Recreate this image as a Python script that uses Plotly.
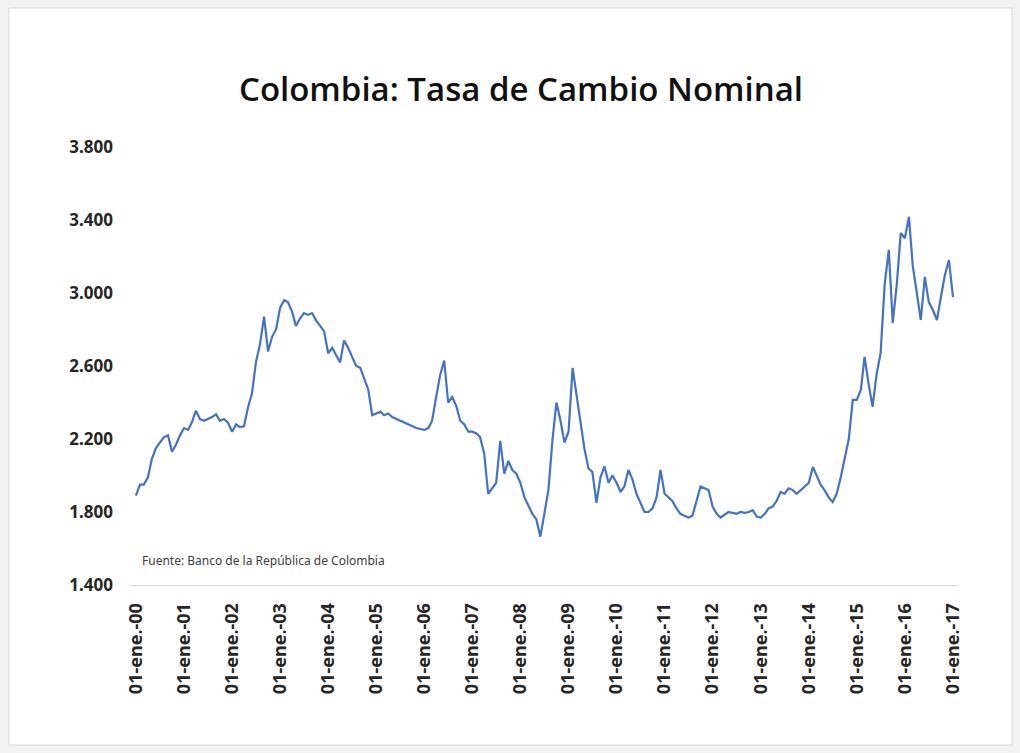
import pandas as pd
import plotly.graph_objects as go

# Monthly nominal exchange rate (COP per USD), Jan-2000 .. Jan-2017
values = [
    # 2000
    1890, 1950, 1950, 1990, 2090, 2150, 2180, 2210, 2220, 2130, 2170, 2220,
    # 2001
    2260, 2250, 2290, 2355, 2310, 2300, 2310, 2320, 2335, 2300, 2310, 2290,
    # 2002
    2240, 2280, 2265, 2270, 2370, 2450, 2620, 2720, 2870, 2680, 2760, 2800,
    # 2003
    2920, 2960, 2950, 2900, 2820, 2860, 2890, 2880, 2890, 2850, 2820, 2790,
    # 2004
    2670, 2700, 2660, 2620, 2740, 2700, 2650, 2600, 2590, 2530, 2470, 2330,
    # 2005
    2340, 2350, 2330, 2340, 2320, 2310, 2300, 2290, 2280, 2270, 2260, 2255,
    # 2006
    2250, 2260, 2300, 2430, 2550, 2630, 2400, 2430, 2380, 2300, 2280, 2240,
    # 2007
    2240, 2230, 2210, 2120, 1900, 1930, 1960, 2190, 2010, 2080, 2030, 2010,
    # 2008
    1960, 1880, 1840, 1790, 1760, 1665, 1790, 1920, 2195, 2400, 2300, 2180,
    # 2009
    2240, 2590, 2450, 2300, 2150, 2040, 2020, 1850, 1990, 2050, 1960, 2000,
    # 2010
    1960, 1910, 1940, 2030, 1980, 1900, 1850, 1800, 1800, 1820, 1880, 2030,
    # 2011
    1900, 1880, 1860, 1820, 1790, 1780, 1770, 1780, 1860, 1940, 1930, 1920,
    # 2012
    1830, 1790, 1770, 1785, 1800, 1795, 1790, 1800, 1795, 1800, 1810, 1775,
    # 2013
    1770, 1790, 1820, 1830, 1860, 1910, 1900, 1930, 1920, 1900, 1920, 1937,
    # 2014
    1960, 2047, 2000, 1950, 1920, 1880, 1855, 1900, 1990, 2085, 2200, 2414,
    # 2015
    2414, 2470, 2650, 2500, 2376, 2560, 2671, 3050, 3236, 2836, 3050, 3329,
    # 2016
    3300, 3417, 3150, 3000, 2852, 3088, 2950, 2907, 2852, 2978, 3100, 3181,
    # 2017
    2978,
]
dates = pd.date_range("2000-01-01", periods=len(values), freq="MS")

tick_years = list(range(2000, 2018))
tick_vals = [pd.Timestamp(f"{y}-01-01") for y in tick_years]
tick_text = [f"01-ene.-{y % 100:02d}" for y in tick_years]

y_ticks = [1400, 1800, 2200, 2600, 3000, 3400, 3800]

W, H = 1020, 753
ML, MR, MT, MB = 130, 62, 147, 168
PW, PH = W - ML - MR, H - MT - MB

def px_x(p):
    return (p - ML) / PW

def px_y(p):
    return (H - MB - p) / PH

fig = go.Figure()
fig.add_trace(go.Scatter(
    x=dates, y=values, mode="lines",
    line=dict(color="#4472C4", width=2.2),
    showlegend=False, hoverinfo="x+y",
))

fig.update_layout(
    width=W, height=H,
    margin=dict(l=ML, r=MR, t=MT, b=MB),
    paper_bgcolor="#f2f2f2",
    plot_bgcolor="white",
    separators=",.",
    title=dict(
        text="Colombia: Tasa de Cambio Nominal",
        x=521 / W, xanchor="center", y=1 - 89 / H, yanchor="middle",
        font=dict(family="Open Sans", size=33, color="#111111", weight=600),
    ),
    xaxis=dict(
        range=[pd.Timestamp("1999-11-17"), pd.Timestamp("2017-02-08")],
        tickmode="array", tickvals=tick_vals, ticktext=tick_text,
        tickangle=-90, showgrid=False, zeroline=False,
        showline=True, linecolor="#d9d9d9", linewidth=1,
        ticks="", ticklabelstandoff=10,
        tickfont=dict(family="Noto Sans", size=18, color="#262626", weight="bold"),
    ),
    yaxis=dict(
        range=[1400, 3800], tickmode="array", tickvals=y_ticks,
        tickformat=",d", showgrid=False, zeroline=False, showline=False,
        ticks="", ticklabelstandoff=16,
        tickfont=dict(family="Noto Sans", size=17, color="#262626", weight="bold"),
    ),
    shapes=[dict(
        type="rect", xref="paper", yref="paper", layer="below",
        x0=px_x(9), x1=px_x(1012), y0=px_y(745), y1=px_y(8),
        line=dict(color="#d9d9d9", width=1), fillcolor="white",
    )],
    annotations=[dict(
        text="Fuente: Banco de la República de Colombia",
        xref="paper", yref="paper", x=px_x(140), y=px_y(560),
        xanchor="left", yanchor="middle", showarrow=False,
        font=dict(family="Noto Sans", size=12, color="#404040"),
    )],
)

fig.write_html("out.html")
